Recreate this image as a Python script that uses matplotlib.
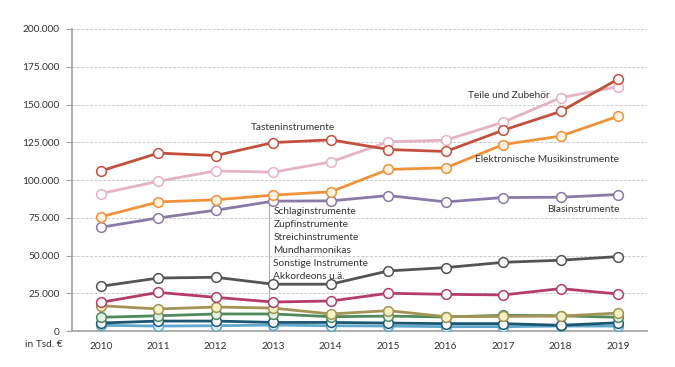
import matplotlib.pyplot as plt
from matplotlib.ticker import FuncFormatter

plt.rcParams['font.family'] = ['Lato', 'DejaVu Sans']

years = list(range(2010, 2020))

tasten = [106000, 117800, 116200, 124800, 126600, 120200, 118900, 133000, 145400, 166900]
teile = [91000, 99200, 106000, 105200, 112000, 125300, 126400, 138300, 154500, 161800]
elektro = [75600, 85500, 86900, 90000, 92200, 107000, 108100, 123500, 129100, 142300]
blas = [68700, 74900, 80000, 86000, 86200, 89700, 85500, 88400, 88600, 90400]
schlag = [29600, 35100, 35600, 31000, 31000, 39800, 42000, 45500, 46900, 49300]
zupf = [19000, 25600, 22300, 19200, 19900, 25000, 24300, 23900, 28100, 24500]
streich = [16800, 14600, 15900, 15200, 11300, 13500, 9500, 9700, 9900, 11900]
mund = [9100, 10100, 11300, 11300, 9500, 9900, 9300, 10400, 10100, 9100]
sonstige = [5300, 6600, 6600, 5700, 5700, 5300, 4900, 4900, 3800, 5500]
akkordeon = [3800, 3300, 3500, 4000, 3500, 3300, 2900, 2900, 3300, 3300]

group_labels = ['Schlaginstrumente', 'Zupfinstrumente', 'Streichinstrumente',
                'Mundharmonikas', 'Sonstige Instrumente', 'Akkordeons u.ä.']

# (values, line colour, marker face)
series = [
    (akkordeon, '#5fa8cc', '#e6f4fa'),
    (sonstige, '#1d5670', '#ffffff'),
    (mund, '#4f8a5c', '#e6f2e6'),
    (streich, '#a39455', '#f7f2c4'),
    (zupf, '#b53c6a', '#ffffff'),
    (schlag, '#545454', '#ffffff'),
    (blas, '#8a7aa8', '#ffffff'),
    (elektro, '#f0923a', '#fff3e0'),
    (teile, '#e6b3c6', '#ffffff'),
    (tasten, '#c2503a', '#ffffff'),
]

fs = 7.3

fig = plt.figure(figsize=(6.75, 3.67), dpi=100)
ax = fig.add_axes([0.1067, 0.098, 0.8518, 0.823])

for vals, col, face in series:
    ax.plot(years, vals, color=col, lw=2, marker='o', markersize=7,
            markerfacecolor=face, markeredgecolor=col, markeredgewidth=1.1,
            zorder=3)

ax.set_xlim(2009.5, 2019.5)
ax.set_ylim(0, 200000)
ax.set_yticks(range(0, 200001, 25000))
ax.yaxis.set_major_formatter(FuncFormatter(lambda v, p: f'{int(v):,}'.replace(',', '.')))
ax.set_xticks(years)
ax.grid(axis='y', color='#cccccc', ls=(0, (3, 1.5)), lw=0.7)
ax.set_axisbelow(True)
for s in ['top', 'right']:
    ax.spines[s].set_visible(False)
for s in ['left', 'bottom']:
    ax.spines[s].set_color('#a0a0a0')
    ax.spines[s].set_linewidth(1.2)
ax.tick_params(axis='y', length=4, color='#a0a0a0', labelsize=fs, labelcolor='#333333', pad=5)
ax.tick_params(axis='x', length=0, labelsize=fs, labelcolor='#333333', pad=8)

ax.text(-0.016, -0.046, 'in Tsd. €', transform=ax.transAxes, ha='right', va='center',
        fontsize=fs, color='#333333')

lab = dict(fontsize=fs, color='#333333')
ax.text(2013.34, 134600, 'Tasteninstrumente', ha='center', va='center', **lab)
ax.text(2017.1, 155800, 'Teile und Zubehör', ha='center', va='center', **lab)
ax.text(2019.02, 113400, 'Elektronische Musikinstrumente', ha='right', va='center', **lab)
ax.text(2019.02, 80200, 'Blasinstrumente', ha='right', va='center', **lab)

ax.plot([2012.92, 2012.92], [0, blas[3]], color='#b0b0b0', lw=0.8, zorder=2)
for i, t in enumerate(group_labels):
    ax.text(2013.0, 78900 - i * 8500, t, ha='left', va='center', **lab)

fig.savefig('out.png', dpi=100)
